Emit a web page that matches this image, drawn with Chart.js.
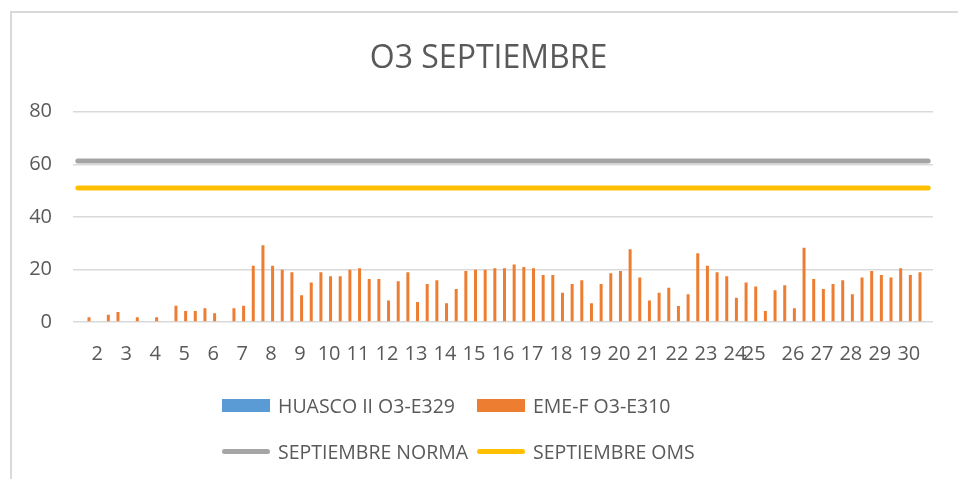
<!DOCTYPE html>
<html>
<head>
<meta charset="utf-8">
<title>O3 SEPTIEMBRE</title>
<script src="https://cdn.jsdelivr.net/npm/chart.js@4.4.1/dist/chart.umd.min.js"></script>
<style>
  html, body { margin: 0; padding: 0; background: #fff; overflow: hidden; }
  #wrap { position: relative; width: 958px; height: 479px; overflow: hidden; }
  /* chart border, cut off at right and bottom like the screenshot */
  #frame { position: absolute; left: 10px; top: 11px; width: 1000px; height: 600px;
           border-left: 2px solid #D9D9D9; border-top: 2px solid #D9D9D9; }
  #myChart { position: absolute; left: 0; top: 0; }
  #legend { position: absolute; left: 0; top: 0; width: 958px; height: 479px;
            font-family: 'Open Sans', sans-serif; font-size: 19.5px; color: #595959; }
  .item { position: absolute; display: flex; align-items: center; white-space: nowrap; height: 20px; line-height: 20px; }
  .mark { width: 48px; margin-right: 8px; }
</style>
</head>
<body>
<div id="wrap">
  <div id="frame"></div>
  <!-- canvas is wider than the window: the original chart is cut off at the right -->
  <canvas id="myChart" width="977" height="479"></canvas>
  <div id="legend"></div>
</div>
<script>
// category labels (one slot per measurement, day number every third slot)
const labels = [
  '', '', '2', '', '', '3', '', '', '4', '', '', '5', '', '', '6', '', '', '7', '', '', '8', '', '', '9',
  '', '', '10', '', '', '11', '', '', '12', '', '', '13', '', '', '14', '', '', '15', '', '', '16',
  '', '', '17', '', '', '18', '', '', '19', '', '', '20', '', '', '21', '', '', '22', '', '', '23',
  '', '', '24', '', '25', '', '', '', '26', '', '', '27', '', '', '28', '', '', '29', '', '', '30', '', ''
];

// HUASCO II has no data this month
const huascoValues = [];

// EME-F O3 values
const emeValues = [
  null, 1.8, null, 2.8, 3.8, null, 1.8, null, 1.8, null,
  6.2, 4.2, 4.2, 5.2, 3.3, null, 5.2, 6.2, 21.4, 29.2,
  21.4, 19.9, 18.9, 10.2, 15.0, 18.9, 17.4, 17.4, 19.9, 20.4,
  16.4, 16.4, 8.2, 15.5, 18.9, 7.6, 14.5, 15.9, 7.1, 12.6,
  19.4, 19.9, 19.9, 20.4, 20.4, 21.9, 20.9, 20.4, 17.9, 17.9,
  11.1, 14.5, 15.9, 7.1, 14.5, 18.5, 19.4, 27.7, 16.9, 8.2,
  11.1, 13.0, 6.1, 10.6, 26.2, 21.4, 18.9, 17.4, 9.2, 15.0,
  13.5, 4.2, 12.1, 14.0, 5.2, 28.2, 16.4, 12.6, 14.5, 15.9,
  10.6, 16.9, 19.4, 17.9, 16.9, 20.4, 17.9, 18.9, null
];

// limits
const normaLimit = 61.2;
const omsLimit = 51;

const yTicks = [0, 20, 40, 60, 80];

Chart.defaults.font.family = "'Open Sans', sans-serif";
Chart.defaults.color = '#595959';

let options = {
  type: 'bar',
  data: {
    labels: labels,
    datasets: [
      {
        label: 'HUASCO II O3-E329',
        data: huascoValues,
        backgroundColor: '#5B9BD5',
        borderColor: '#5B9BD5',
        categoryPercentage: 0.62,
        barPercentage: 1.0
      },
      {
        label: 'EME-F O3-E310',
        data: emeValues,
        backgroundColor: '#ED7D31',
        borderColor: '#ED7D31',
        categoryPercentage: 0.62,
        barPercentage: 1.0
      },
      {
        type: 'line',
        label: 'SEPTIEMBRE NORMA',
        data: labels.map(() => normaLimit),
        borderColor: '#A5A5A5',
        backgroundColor: '#A5A5A5',
        borderWidth: 5,
        borderCapStyle: 'round',
        pointRadius: 0,
        fill: false
      },
      {
        type: 'line',
        label: 'SEPTIEMBRE OMS',
        data: labels.map(() => omsLimit),
        borderColor: '#FFC000',
        backgroundColor: '#FFC000',
        borderWidth: 5,
        borderCapStyle: 'round',
        pointRadius: 0,
        fill: false
      }
    ]
  },
  options: {
    responsive: false,
    animation: false,
    layout: { padding: { left: 0, right: 0, top: 0, bottom: 93 } },
    plugins: {
      legend: { display: false },
      tooltip: { enabled: false },
      title: {
        display: true,
        text: 'O3 SEPTIEMBRE',
        color: '#595959',
        font: { size: 32, weight: 'normal' },
        padding: { top: 40, bottom: 33.3 }
      }
    },
    scales: {
      x: {
        grid: { display: false, drawTicks: false },
        border: { display: false },
        ticks: { autoSkip: false, maxRotation: 0, minRotation: 0, padding: 20,
                 font: { size: 20 }, color: '#595959' }
      },
      y: {
        min: 0,
        max: 80,
        afterBuildTicks: (s) => { s.ticks = yTicks.map(v => ({ value: v })); },
        afterFit: (s) => { s.width = 73; },
        grid: { color: '#D9D9D9', lineWidth: 1.5, drawTicks: false },
        border: { display: false },
        ticks: { padding: 21, font: { size: 20 }, color: '#595959' }
      },
      // empty right axis, only keeps room on the right so the title sits where Excel put it
      yRight: {
        position: 'right',
        min: 0,
        max: 80,
        afterFit: (s) => { s.width = 44; },
        grid: { display: false, drawTicks: false },
        border: { display: false },
        ticks: { display: false }
      }
    }
  }
};

let mChart = new Chart(document.getElementById('myChart'), options);

// legend as two rows of two columns, like the Excel one
const legendBox = document.getElementById('legend');
const colX = [222, 477];
const rowY = [405.5, 451.5];
mChart.data.datasets.forEach(function(ds, i) {
  let item = document.createElement('div');
  item.className = 'item';
  item.style.left = colX[i % 2] + 'px';
  item.style.top = (rowY[Math.floor(i / 2)] - 10) + 'px';
  let mark = document.createElement('span');
  mark.className = 'mark';
  if (ds.type === 'line') {
    mark.style.height = '5px';
    mark.style.borderRadius = '2.5px';
    mark.style.background = ds.borderColor;
  } else {
    mark.style.height = '13px';
    mark.style.background = ds.backgroundColor;
  }
  let text = document.createElement('span');
  text.textContent = ds.label;
  item.appendChild(mark);
  item.appendChild(text);
  legendBox.appendChild(item);
});
</script>
</body>
</html>
